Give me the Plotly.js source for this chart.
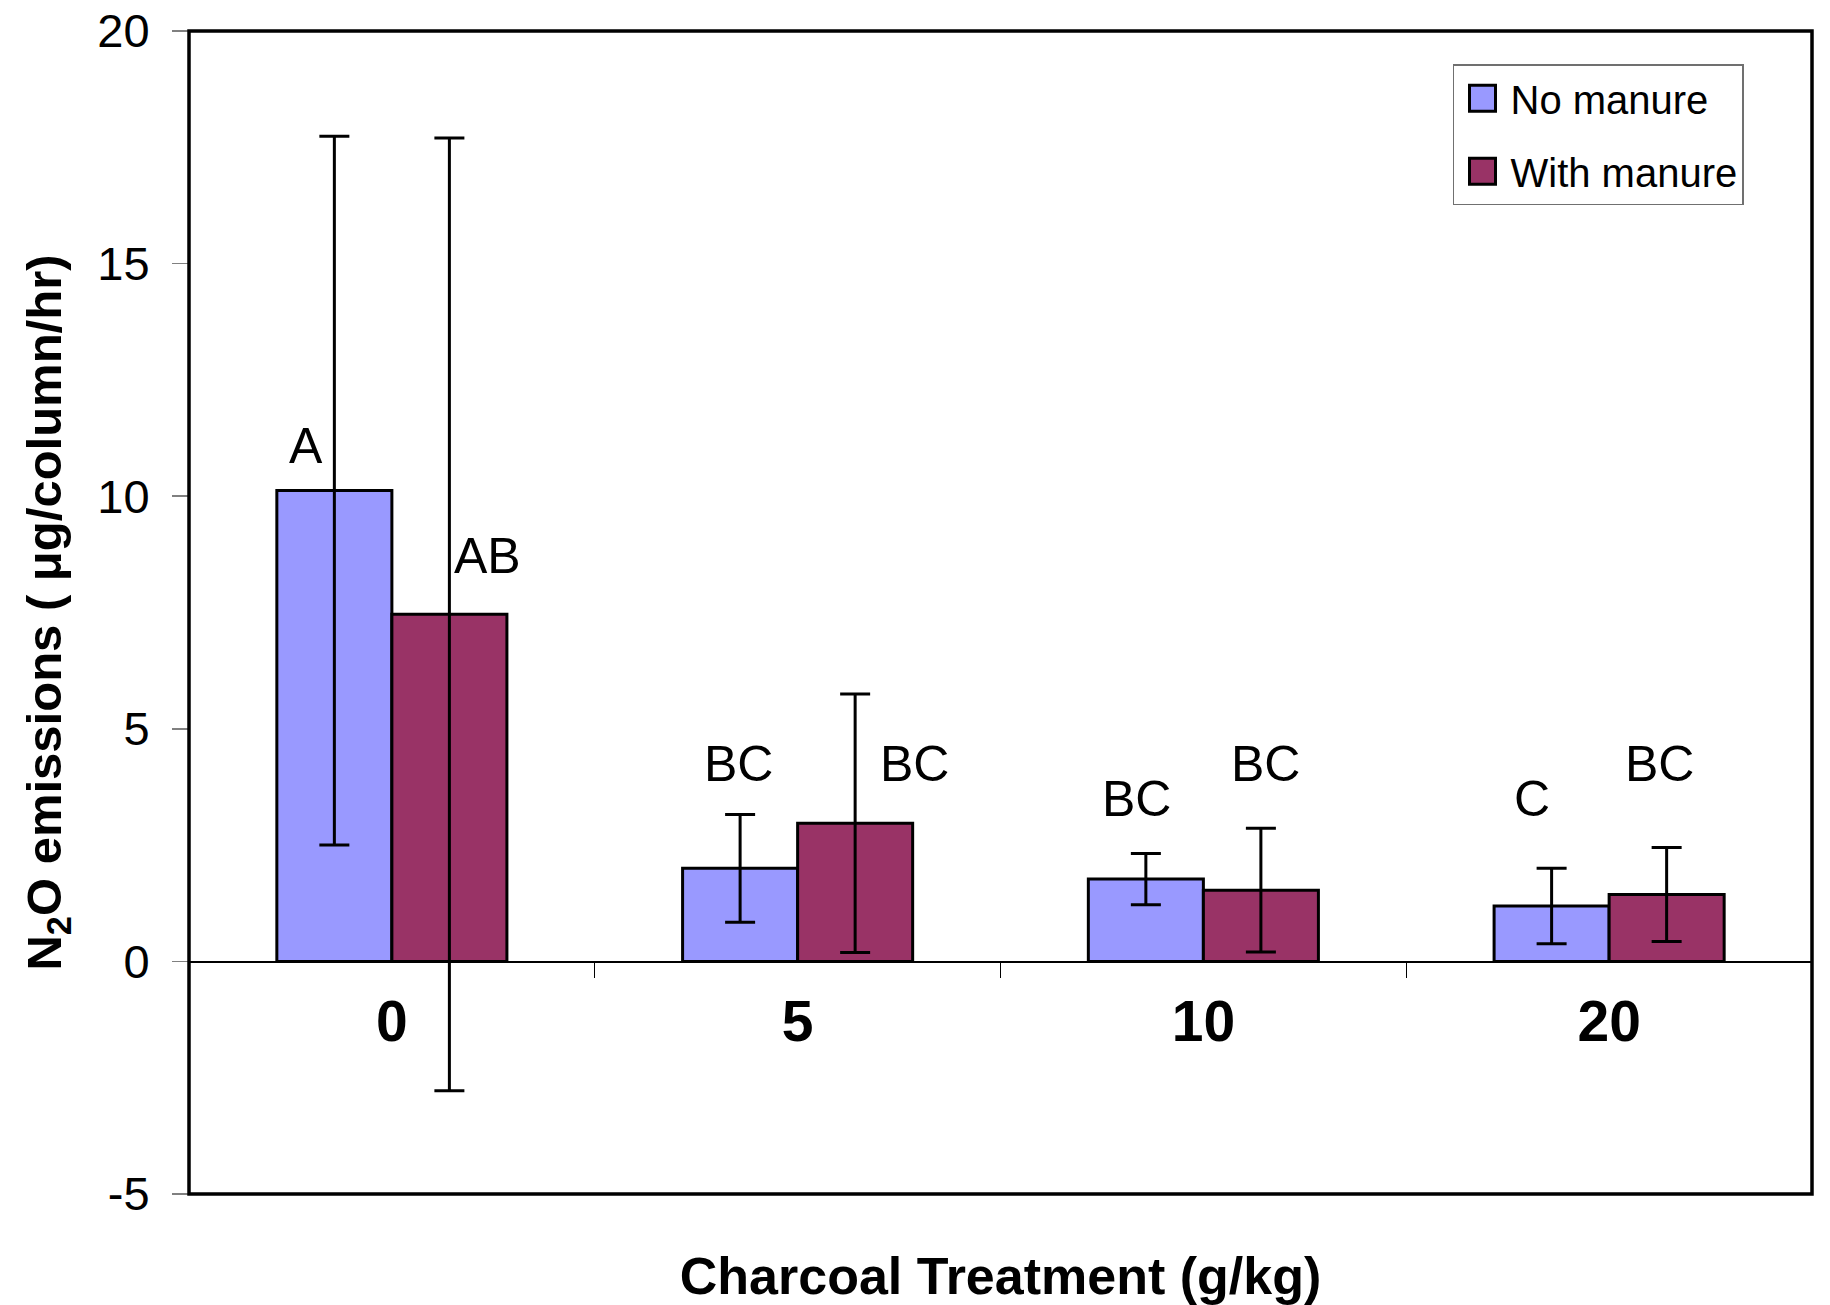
<!DOCTYPE html>
<html>
<head>
<meta charset="utf-8">
<script src="https://cdn.plot.ly/plotly-3.0.1.min.js"></script>
<style>html,body{margin:0;padding:0;background:#fff;}#chart{width:1830px;height:1305px;}</style>
</head>
<body>
<div id="chart"></div>
<script>
// ---- data ----
const categories = ['0', '5', '10', '20'];
const seriesNames = ['No manure', 'With manure'];
const noManure = [10.12, 2.00, 1.77, 1.19];
const noManureErr = [7.62, 1.16, 0.55, 0.81];
const withManure = [7.46, 2.97, 1.53, 1.44];
const withManureErr = [10.24, 2.78, 1.33, 1.01];
const noManureLetters = ['A', 'BC', 'BC', 'C'];
const withManureLetters = ['AB', 'BC', 'BC', 'BC'];
const yTickVals = [-5, 0, 5, 10, 15, 20];
const yTickText = ['-5', '0', '5', '10', '15', '20'];

// ---- label placement (offset from category centre, y in data units) ----
const noManureLabelPos = {dx: [-0.212, -0.146, -0.164, -0.189], y: [11.07, 4.24, 3.49, 3.49]};
const withManureLabelPos = {dx: [0.236, 0.287, 0.152, 0.124], y: [8.71, 4.24, 4.24, 4.24]};

const FONT = 'Liberation Sans, Arial, Helvetica, sans-serif';
const BLUE = '#9999FF';
const PLUM = '#993366';

const errStyle = {color: '#000', thickness: 3, width: 15};

const traces = [
  {
    type: 'bar', name: seriesNames[0], x: categories, y: noManure,
    marker: {color: BLUE, line: {color: '#000', width: 3}},
    error_y: Object.assign({type: 'data', array: noManureErr, visible: true}, errStyle),
    legendgroup: 'a', hoverinfo: 'skip'
  },
  {
    type: 'bar', name: seriesNames[1], x: categories, y: withManure,
    marker: {color: PLUM, line: {color: '#000', width: 3}},
    error_y: Object.assign({type: 'data', array: withManureErr, visible: true}, errStyle),
    legendgroup: 'b', hoverinfo: 'skip'
  }
];

const annotations = [];
function addLetters(letters, pos) {
  letters.forEach((t, i) => {
    annotations.push({
      x: i + pos.dx[i], y: pos.y[i], xref: 'x', yref: 'y', text: t,
      showarrow: false, xanchor: 'center', yanchor: 'middle',
      font: {family: FONT, size: 50, color: '#000'}
    });
  });
}
addLetters(noManureLetters, noManureLabelPos);
addLetters(withManureLetters, withManureLabelPos);

const yMin = -5, yMax = 20;

const layout = {
  width: 1830, height: 1305,
  margin: {l: 189, r: 18, t: 31, b: 111, pad: 0},
  paper_bgcolor: '#fff', plot_bgcolor: '#fff',
  font: {family: FONT, color: '#000'},
  barmode: 'group', bargap: 0.433, bargroupgap: 0,
  showlegend: true,
  legend: {
    x: 0.7788, y: 0.9714, xanchor: 'left', yanchor: 'top',
    bgcolor: '#fff', bordercolor: '#707070', borderwidth: 1.5,
    font: {family: FONT, size: 40, color: '#000'},
    traceorder: 'grouped', tracegroupgap: 18, itemwidth: 46
  },
  xaxis: {
    type: 'category', anchor: 'free', position: (0 - yMin) / (yMax - yMin),
    showline: true, linecolor: '#000', linewidth: 1.5,
    ticks: 'outside', tickson: 'boundaries', ticklen: 15, tickwidth: 1.2, tickcolor: '#000',
    tickfont: {family: FONT, size: 57, color: '#000', weight: 'bold'},
    ticklabelstandoff: 10,
    showgrid: false, zeroline: false, fixedrange: true,
    title: {text: '<b>Charcoal Treatment (g/kg)</b>', font: {family: FONT, size: 52, color: '#000'}, standoff: 208}
  },
  yaxis: {
    range: [yMin, yMax], tickmode: 'array', tickvals: yTickVals, ticktext: yTickText,
    showline: false, ticks: 'outside', ticklen: 16, tickwidth: 1.5, tickcolor: '#808080',
    tickfont: {family: FONT, size: 47, color: '#000'},
    ticklabelstandoff: 13,
    showgrid: false, zeroline: false, fixedrange: true,
    title: {text: '<b>N<sub>2</sub>O emissions ( μg/column/hr)</b>', font: {family: FONT, size: 49, color: '#000'}, standoff: 20}
  },
  shapes: [
    {type: 'rect', xref: 'paper', yref: 'paper', x0: 0, x1: 1, y0: 0, y1: 1,
     line: {color: '#000', width: 3.5}, fillcolor: 'rgba(0,0,0,0)', layer: 'above'}
  ],
  annotations: annotations
};

Plotly.newPlot('chart', traces, layout, {staticPlot: true, displayModeBar: false}).then(() => {
  // enlarge legend swatches to match the reference's square keys
  document.querySelectorAll('.legend .legendpoints path').forEach(p => {
    p.setAttribute('d', 'M13,13H-13V-13H13Z');
    p.style.strokeWidth = '3px';
  });
});
</script>
</body>
</html>
